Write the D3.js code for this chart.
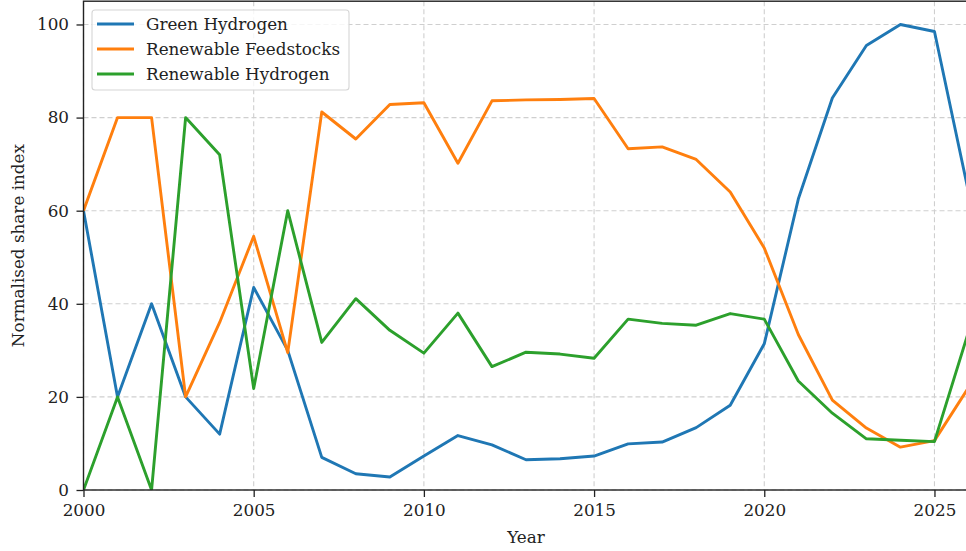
<!DOCTYPE html>
<html><head><meta charset="utf-8">
<script src="https://cdn.jsdelivr.net/npm/d3@7"></script>
<style>
body{margin:0;background:#fff;}
svg{display:block;font-family:"DejaVu Serif",serif;}
</style></head>
<body><svg id="c" width="966" height="551"></svg>
<script>
const years = [2000,2001,2002,2003,2004,2005,2006,2007,2008,2009,2010,2011,2012,2013,2014,2015,2016,2017,2018,2019,2020,2021,2022,2023,2024,2025,2026];
const greenHydrogen = [60,20,40,20,12,43.5,30,7,3.5,2.8,7.3,11.7,9.7,6.5,6.7,7.3,9.9,10.3,13.4,18.2,31.4,62.5,84.2,95.5,100,98.5,64];
const renewableFeedstocks = [60,80,80,20,36,54.5,29.5,81.2,75.4,82.8,83.2,70.2,83.6,83.8,83.9,84.1,73.3,73.7,71,64,52,33.4,19.3,13.3,9.2,10.6,22];
const renewableHydrogen = [0,20,0,80,72,21.8,60,31.7,41.1,34.3,29.4,38,26.5,29.6,29.2,28.3,36.7,35.8,35.4,37.9,36.7,23.4,16.5,11,10.7,10.4,34];
const seriesNames = ["Green Hydrogen","Renewable Feedstocks","Renewable Hydrogen"];
const colors = ["#1f77b4","#ff7f0e","#2ca02c"];
const xTicks = [2000,2005,2010,2015,2020,2025];
const yTicks = [0,20,40,60,80,100];

const series = [greenHydrogen, renewableFeedstocks, renewableHydrogen];
const svg = d3.select("#c");
const FS = 16.8;
const pL = 83.5, pR = 968.5, pT = 1.2, pB = 490;
const x = d3.scaleLinear().domain([2000,2026]).range([pL,pR]);
const y = d3.scaleLinear().domain([0,105]).range([pB,pT]);

svg.append("defs").append("clipPath").attr("id","clip")
  .append("rect").attr("x",pL).attr("y",pT).attr("width",pR-pL).attr("height",pB-pT);

// grid
const grid = svg.append("g");
xTicks.forEach(t=>grid.append("line").attr("x1",x(t)).attr("x2",x(t)).attr("y1",pT).attr("y2",pB)
  .attr("stroke","#cfcfcf").attr("stroke-width",1.1).attr("stroke-dasharray","5,3"));
yTicks.forEach(t=>grid.append("line").attr("x1",pL).attr("x2",pR).attr("y1",y(t)).attr("y2",y(t))
  .attr("stroke","#cfcfcf").attr("stroke-width",1.1).attr("stroke-dasharray","5,3"));

// lines
const line = d3.line().x((d,i)=>x(years[i])).y(d=>y(d));
const lg = svg.append("g").attr("clip-path","url(#clip)");
series.forEach((s,k)=>lg.append("path").datum(s).attr("d",line).attr("fill","none")
  .attr("stroke",colors[k]).attr("stroke-width",2.9).attr("stroke-linejoin","round"));

// axes
const xa = svg.append("g").attr("transform",`translate(0,${pB})`)
  .call(d3.axisBottom(x).tickValues(xTicks).tickFormat(d3.format("d")).tickSize(7).tickPadding(7.5));
const ya = svg.append("g").attr("transform",`translate(${pL},0)`)
  .call(d3.axisLeft(y).tickValues(yTicks).tickSize(7).tickPadding(7.5));
[xa,ya].forEach(a=>{
  a.select(".domain").remove();
  a.selectAll("text").attr("font-family","DejaVu Serif").attr("font-size",FS).attr("fill","#222");
  a.selectAll("line").attr("stroke","#222").attr("stroke-width",1.3);
});
// frame
svg.append("rect").attr("x",pL).attr("y",pT).attr("width",pR-pL).attr("height",pB-pT)
  .attr("fill","none").attr("stroke","#222").attr("stroke-width",1.4);

// labels
svg.append("text").attr("x",(pL+pR)/2).attr("y",542.5).attr("text-anchor","middle")
  .attr("font-size",FS).attr("fill","#222").text("Year");
svg.append("text").attr("transform",`translate(24,${(pT+pB)/2}) rotate(-90)`).attr("text-anchor","middle")
  .attr("font-size",FS).attr("fill","#222").text("Normalised share index");

// legend
const leg = svg.append("g");
leg.append("rect").attr("x",92).attr("y",10).attr("width",257).attr("height",80).attr("rx",3)
  .attr("fill","rgba(255,255,255,0.8)").attr("stroke","#d6d6d6").attr("stroke-width",1.1);
seriesNames.forEach((n,k)=>{
  const yy = 24 + k*25;
  leg.append("line").attr("x1",97).attr("x2",134).attr("y1",yy).attr("y2",yy)
    .attr("stroke",colors[k]).attr("stroke-width",2.9);
  leg.append("text").attr("x",146).attr("y",yy+5.5).attr("font-size",FS).attr("fill","#222").text(n);
});
</script></body></html>
